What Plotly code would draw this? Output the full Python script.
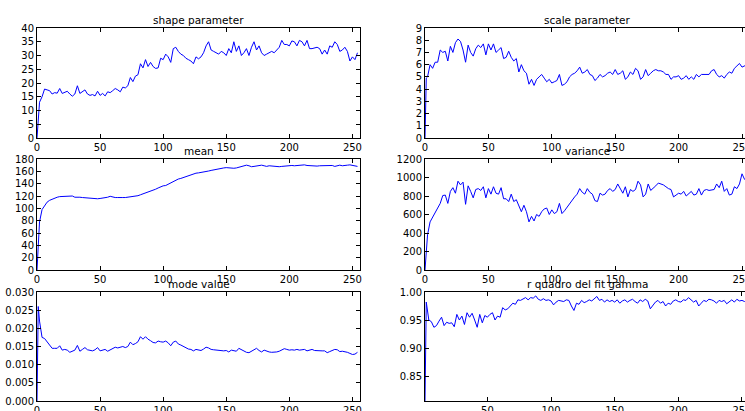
import plotly.graph_objects as go

# x positions (sample index)
X = [0, 1] + list(range(2, 256, 2))
X_R2 = [1] + list(range(2, 256, 2))

shape_param = [0, 9, 13, 15, 17.8, 17.5, 17.2, 16, 16.5, 16.3,
               18, 16.2, 16.5, 17, 16, 15.2, 16, 19, 16.2, 16.8,
               17.5, 16, 15.5, 15.8, 15.3, 17, 15.5, 16.2, 15.3, 16.8,
               16.5, 17.2, 18, 17.5, 16.8, 18.5, 18.2, 19, 22, 20.5,
               22.5, 23, 27, 25.5, 28.5, 26, 27.5, 26, 25.3, 25.5,
               29, 28.5, 30.5, 29.5, 27.5, 32.5, 33, 31.5, 30.5, 30,
               29, 28.5, 28, 27, 29.5, 28.8, 29.5, 31, 33.5, 35,
               32, 31.5, 31, 30.5, 31.5, 31, 30, 32.5, 31, 35,
               31.5, 33.5, 30, 31, 32.5, 30, 33, 35, 32, 33.5,
               31, 30, 30.5, 31, 31.5, 31, 32, 33, 35.5, 34,
               34, 33.5, 35.3, 35, 33.5, 35.5, 35, 33.5, 35.5, 32.5,
               32.5, 32.8, 33, 32.5, 30.5, 32, 30.5, 33.5, 33, 35,
               34, 31.5, 32, 33, 31.5, 28, 29.5, 28.5, 31]

scale_param = [0, 4.9, 5.0, 6.0, 5.7, 6.2, 6.2, 7.2, 7.0, 7.1,
               6.3, 7.5, 7.0, 7.8, 8.1, 7.9, 7.2, 6.2, 7.6, 7.0,
               6.7, 7.3, 7.6, 7.4, 7.7, 6.8, 7.7, 7.2, 7.7, 7.0,
               7.2, 7.4, 6.5, 6.6, 7.1, 6.6, 6.3, 6.5, 5.4, 6.0,
               5.5, 5.3, 4.4, 4.8, 4.3, 4.8, 5.0, 5.2, 4.9, 4.6,
               4.8, 4.5, 4.6, 4.7, 5.2, 4.3, 4.4, 4.6, 5.0, 5.2,
               5.3, 5.5, 5.8, 5.3, 5.4, 5.6, 5.2, 5.1, 4.7, 4.9,
               5.2, 5.0, 5.1, 5.3, 5.4, 5.2, 5.6, 5.2, 5.3, 5.5,
               4.8, 5.0, 5.4, 5.2, 5.7, 5.5, 4.8, 5.0, 5.6, 5.1,
               5.3, 5.5, 5.6, 5.5, 5.5, 5.4, 5.2, 5.2, 4.8, 5.0,
               5.0, 5.1, 4.8, 4.9, 5.1, 4.8, 5.0, 4.8, 5.2, 5.0,
               5.2, 5.2, 5.2, 5.2, 5.5, 5.6, 5.2, 5.0, 5.1, 4.9,
               5.2, 5.4, 5.3, 5.7, 5.9, 6.1, 5.8, 5.9, 6.0]

mean_vals = [0, 55, 78, 98, 105, 110, 113, 115, 116, 118,
             119, 119, 120, 120, 119.5, 120, 118, 118.5, 118, 117.5,
             117, 116.5, 116, 115.5, 115, 115.5, 116, 116.5, 117, 118,
             119.5, 118, 117.5, 117.5, 118, 117.5, 117.5, 118, 119.5, 120,
             120, 120.5, 122, 123.5, 124.5, 126, 127, 129, 131, 133,
             135, 136.5, 137, 139, 141, 143, 146, 147.5, 148.5, 150,
             151.5, 153, 154, 155.5, 157, 157.5, 158, 159, 160, 160.5,
             161.5, 162.5, 163, 164.5, 165, 165.5, 166, 165.5, 165, 165,
             165.5, 166.5, 167.5, 169, 170, 169, 167.5, 168, 169, 170,
             170, 169, 168, 169, 168.5, 168, 168, 167.5, 168, 168.5,
             169, 169, 169.5, 169, 169.5, 170, 170, 170.5, 169.5, 169,
             168.5, 169, 168.5, 169, 169, 170, 169.5, 169, 169.5, 168,
             169.5, 170, 169, 170, 170, 170.5, 170, 169.5, 168]

variance_vals = [0, 250, 380, 520, 575, 620, 670, 720, 805, 810,
                 720, 850, 890, 830, 960, 920, 950, 710, 910, 850,
                 780, 870, 880, 860, 900, 780, 880, 820, 900, 830,
                 820, 890, 770, 770, 740, 820, 740, 760, 690, 630,
                 700, 630, 520, 580, 530, 600, 580, 630, 660, 670,
                 600, 650, 610, 630, 720, 610, 640, 680, 720, 760,
                 790, 820, 880, 840, 820, 880, 840, 820, 750, 740,
                 830, 810, 820, 860, 880, 850, 870, 930, 880, 830,
                 900, 790, 870, 850, 870, 960, 920, 790, 820, 930,
                 860, 880, 910, 940, 930, 920, 900, 880, 870, 790,
                 810, 830, 820, 850, 800, 820, 850, 810, 820, 880,
                 810, 860, 870, 860, 865, 870, 930, 890, 960, 850,
                 880, 810, 820, 900, 880, 930, 1040, 980, 1000]

mode_vals = [0, 0.026, 0.022, 0.0175, 0.0172, 0.0163, 0.0155, 0.0145, 0.0145, 0.0145,
             0.0152, 0.014, 0.0142, 0.014, 0.0134, 0.0136, 0.014, 0.0153, 0.0137, 0.0142,
             0.0147, 0.0141, 0.014, 0.0138, 0.0141, 0.0147, 0.0138, 0.0141, 0.0142, 0.0137,
             0.0141, 0.0146, 0.0148, 0.0146, 0.0147, 0.015, 0.0147, 0.015, 0.0162, 0.0155,
             0.0158, 0.0163, 0.0177, 0.017, 0.0177, 0.017, 0.0166, 0.0161, 0.016, 0.0165,
             0.0163, 0.0162, 0.0165, 0.016, 0.0152, 0.0162, 0.0165, 0.0157, 0.0154, 0.015,
             0.0147, 0.0143, 0.0142, 0.0138, 0.0142, 0.014, 0.0139, 0.0143, 0.0148, 0.0146,
             0.0142, 0.0141, 0.014, 0.014, 0.0139, 0.0138, 0.0139, 0.0135, 0.014, 0.0138,
             0.0137, 0.0145, 0.0141, 0.0137, 0.0134, 0.0133, 0.0137, 0.0142, 0.0145, 0.0139,
             0.0135, 0.014, 0.0137, 0.0135, 0.0134, 0.0134, 0.0135, 0.0137, 0.014, 0.0144,
             0.0142, 0.014, 0.0141, 0.014, 0.0142, 0.014, 0.0141, 0.0142, 0.0138, 0.0141,
             0.0142, 0.0139, 0.0138, 0.0138, 0.0138, 0.0138, 0.0133, 0.0136, 0.014, 0.0142,
             0.0141, 0.0136, 0.0137, 0.0136, 0.0134, 0.0131, 0.0128, 0.0129, 0.0134]

r2_vals = [0.805, 0.982, 0.95, 0.947, 0.937, 0.94, 0.948, 0.955, 0.94, 0.946,
           0.944, 0.945, 0.938, 0.96, 0.95, 0.957, 0.942, 0.963, 0.955, 0.962,
           0.95, 0.937, 0.96, 0.945, 0.958, 0.955, 0.96, 0.963, 0.95, 0.957,
           0.955, 0.972, 0.968, 0.97, 0.975, 0.98, 0.978, 0.986, 0.985, 0.988,
           0.99, 0.986, 0.99, 0.989, 0.993, 0.987, 0.985, 0.988, 0.985, 0.986,
           0.984, 0.977, 0.982, 0.985, 0.984, 0.983, 0.986, 0.985, 0.975, 0.967,
           0.98, 0.978, 0.985, 0.981, 0.983, 0.986, 0.984, 0.988, 0.992, 0.985,
           0.987, 0.982, 0.986, 0.983, 0.985, 0.982, 0.986, 0.98, 0.984, 0.986,
           0.982, 0.985, 0.987, 0.983, 0.98, 0.986, 0.983, 0.987, 0.984, 0.97,
           0.976, 0.982, 0.985, 0.98, 0.983, 0.975, 0.98, 0.978, 0.984, 0.986,
           0.983, 0.982, 0.986, 0.985, 0.99, 0.986, 0.982, 0.985, 0.975, 0.98,
           0.985, 0.983, 0.987, 0.986, 0.984, 0.98, 0.985, 0.983, 0.985, 0.979,
           0.983, 0.986, 0.982, 0.987, 0.984, 0.985, 0.983, 0.984]

titles = ["shape parameter", "scale parameter", "mean", "variance",
          "mode value", "r quadro del fit gamma"]
x_ticks = [0, 50, 100, 150, 200, 250]

for name, arr in [("shape", shape_param), ("scale", scale_param), ("mean", mean_vals),
                  ("variance", variance_vals), ("mode", mode_vals)]:
    assert len(arr) == len(X), (name, len(arr), len(X))
assert len(r2_vals) == len(X_R2), ("r2", len(r2_vals), len(X_R2))

# The figure is a little wider than the 745px window: the right column runs
# past the window edge, as in the reference.
W, H = 760, 411
cols = [(37, 360), (425, 750)]
rows = [(28, 138), (159, 270), (292, 401)]

series = [(X, shape_param), (X, scale_param), (X, mean_vals),
          (X, variance_vals), (X, mode_vals), (X_R2, r2_vals)]
yranges = [[0, 40], [0, 9], [0, 180], [0, 1200], [0, 0.030], [0.8054, 1.0]]
ydticks = [5, 1, 20, 200, 0.005, 0.05]
yfmt = [None, None, None, None, ".3f", ".2f"]
y_tick0 = [0, 0, 0, 0, 0, 0.85]
xranges = [[0, 256], [0, 256.3], [0, 256], [0, 256.3], [0, 256], [1, 256.3]]

font = dict(family="DejaVu Sans", size=10, color="black")
fig = go.Figure()
annotations = []
for i, (xs, ys) in enumerate(series):
    r, c = divmod(i, 2)
    n = i + 1
    sfx = "" if n == 1 else str(n)
    fig.add_trace(go.Scatter(x=xs, y=ys, mode="lines",
                             line=dict(color="#0000ff", width=1),
                             xaxis="x" + sfx, yaxis="y" + sfx,
                             showlegend=False, hoverinfo="x+y"))
    l, rr = cols[c]
    t, b = rows[r]
    xd = [l / W, rr / W]
    yd = [1 - b / H, 1 - t / H]
    common = dict(showline=True, linecolor="black", linewidth=1,
                  mirror="allticks", ticks="inside", ticklen=4,
                  tickcolor="black", tickwidth=1, showgrid=False,
                  zeroline=False, tickfont=font, automargin=False)
    fig.layout["xaxis" + sfx] = dict(domain=xd, range=xranges[i],
                                     anchor="y" + sfx, tickmode="array",
                                     tickvals=x_ticks, ticklabelstandoff=0, **common)
    yax = dict(domain=yd, range=yranges[i], anchor="x" + sfx,
               tickmode="linear", tick0=y_tick0[i], dtick=ydticks[i], **common)
    if yfmt[i]:
        yax["tickformat"] = yfmt[i]
    fig.layout["yaxis" + sfx] = yax
    annotations.append(dict(text=titles[i], x=(xd[0] + xd[1]) / 2, y=yd[1],
                            xref="paper", yref="paper", xanchor="center",
                            yanchor="bottom", yshift=0, showarrow=False,
                            font=dict(family="DejaVu Sans", size=10.5, color="black")))

fig.update_layout(width=W, height=H, margin=dict(l=0, r=0, t=0, b=0),
                  paper_bgcolor="white", plot_bgcolor="white",
                  annotations=annotations, showlegend=False)
fig.write_html("out.html", config={"displayModeBar": False},
               post_script="document.body.style.margin='0';document.body.style.overflow='hidden';")
